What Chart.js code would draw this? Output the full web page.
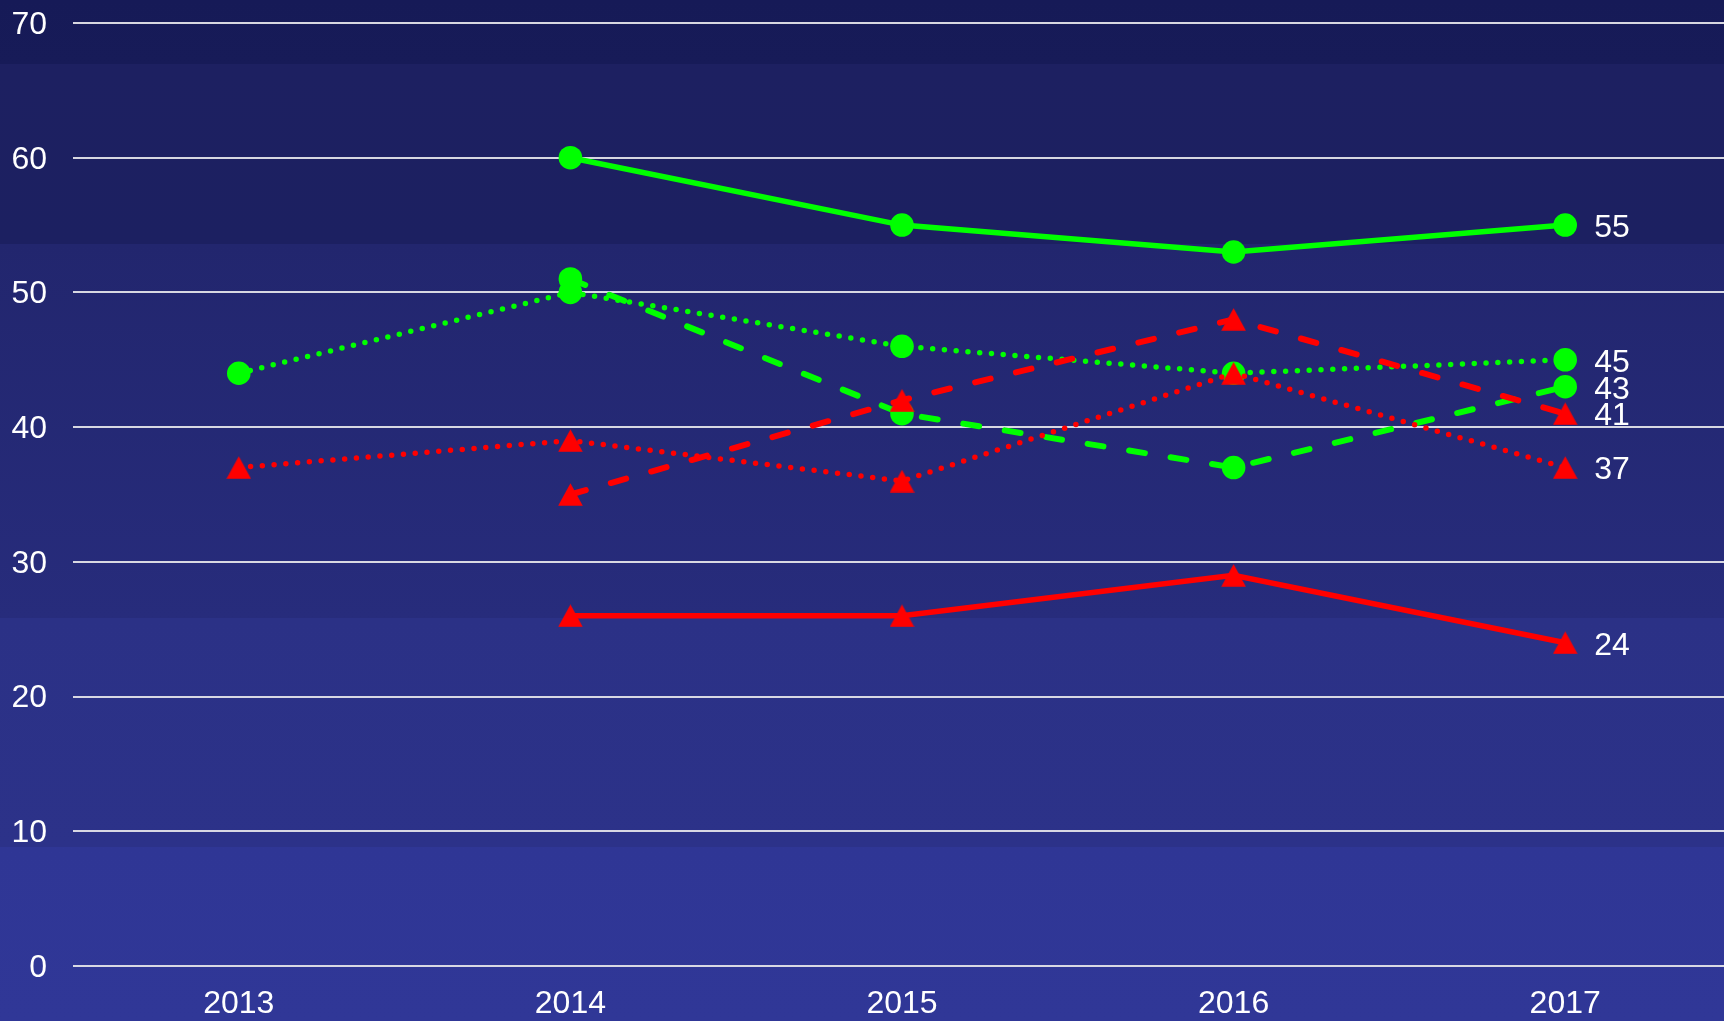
<!DOCTYPE html>
<html><head><meta charset="utf-8">
<script src="https://cdn.jsdelivr.net/npm/chart.js@4/dist/chart.umd.min.js"></script>
<style>
html,body{margin:0;padding:0;overflow:hidden;background:#2f3696;width:1724px;height:1021px}
#c{display:block}
</style></head><body>
<canvas id="c" width="1731" height="1021" style="width:1731px;height:1021px"></canvas>
<script>
// ---- data ----
const years = ['2013','2014','2015','2016','2017'];
const yTicks = [0,10,20,30,40,50,60,70];
const greenSolid  = [null,60,55,53,55];
const greenDotted = [44,50,46,44,45];
const greenDashed = [null,51,41,37,43];
const redDashed   = [null,35,42,48,41];
const redDotted   = [37,39,36,44,37];
const redSolid    = [null,26,26,29,24];

const GREEN = '#00ff00', RED = '#ff0000';
const FONT = '"Liberation Sans", Arial, Helvetica, sans-serif';

function makeTri(color){
  const c = document.createElement('canvas'); c.width = 25; c.height = 23;
  const x = c.getContext('2d'); x.fillStyle = color;
  x.beginPath(); x.moveTo(12.5,0.2); x.lineTo(24.8,22.8); x.lineTo(0.2,22.8); x.closePath(); x.fill();
  return c;
}
const TRI = makeTri(RED);

const STYLES = {
  solid:  {borderWidth:5.5, borderDash:[], borderCapStyle:'butt'},
  dashed: {borderWidth:6,   borderDash:[16,26], borderCapStyle:'round'},
  dotted: {borderWidth:5.5, borderDash:[0,11.8], borderCapStyle:'round'}
};
function ds(data, color, kind, marker){
  return Object.assign({
    data, borderColor: color, backgroundColor: color,
    pointStyle: marker, pointRadius: 11.8, pointHoverRadius: 11.8, pointBorderWidth: 0,
    pointBackgroundColor: color, tension: 0, spanGaps: false, clip: false, fill: false
  }, STYLES[kind]);
}

const bgPlugin = {
  id: 'bg',
  beforeDraw(chart){
    const ctx = chart.ctx, W = chart.width;
    const bands = [
      [0, 64, '#161a57', '#171b58'],
      [64, 244, '#1d2061', '#1c2061'],
      [244, 618, '#22266e', '#272c7c'],
      [618, 847, '#2b3186', '#2c3289'],
      [847, 1021, '#2f3695', '#303797']
    ];
    ctx.save();
    bands.forEach(b => {
      const g = ctx.createLinearGradient(0, b[0], 0, b[1]);
      g.addColorStop(0, b[2]); g.addColorStop(1, b[3]);
      ctx.fillStyle = g; ctx.fillRect(0, b[0], W, b[1]-b[0]);
    });
    ctx.restore();
  }
};

const endLabels = {
  id: 'endLabels',
  afterDatasetsDraw(chart){
    const ctx = chart.ctx;
    ctx.save();
    ctx.font = '32px ' + FONT; ctx.fillStyle = '#ffffff';
    ctx.textBaseline = 'middle'; ctx.textAlign = 'left';
    chart.data.datasets.forEach((d, i) => {
      const meta = chart.getDatasetMeta(i);
      const last = d.data.length - 1;
      const p = meta.data[last];
      if (d.data[last] != null) ctx.fillText(String(d.data[last]), p.x + 29, p.y + 3);
    });
    ctx.restore();
  }
};

new Chart(document.getElementById('c'), {
  type: 'line',
  data: {
    labels: years,
    datasets: [
      ds(redSolid, RED, 'solid', TRI),
      ds(redDotted, RED, 'dotted', TRI),
      ds(redDashed, RED, 'dashed', TRI),
      ds(greenDashed, GREEN, 'dashed', 'circle'),
      ds(greenDotted, GREEN, 'dotted', 'circle'),
      ds(greenSolid, GREEN, 'solid', 'circle')
    ]
  },
  options: {
    responsive: false, maintainAspectRatio: false, animation: false,
    layout: {autoPadding: false, padding: {top: 23, left: 0, right: 0, bottom: 0}},
    plugins: {legend: {display: false}, tooltip: {enabled: false}},
    events: [],
    scales: {
      x: {
        type: 'category', offset: true,
        grid: {display: false, drawTicks: false},
        border: {display: false},
        ticks: {color: '#ffffff', font: {size: 32, family: FONT}, padding: 19, maxRotation: 0},
        afterFit(s){ s.height = 55; s.paddingLeft = 0; s.paddingRight = 0; }
      },
      y: {
        min: 0, max: 70,
        afterBuildTicks(s){ s.ticks = yTicks.map(v => ({value: v})); },
        grid: {color: 'rgba(225,225,232,0.95)', lineWidth: 2, drawTicks: false},
        border: {display: false},
        ticks: {color: '#ffffff', font: {size: 32, family: FONT}, padding: 26, labelOffset: 2},
        afterFit(s){ s.width = 73; s.paddingTop = 0; s.paddingBottom = 0; }
      }
    }
  },
  plugins: [bgPlugin, endLabels]
});
</script>
</body></html>
